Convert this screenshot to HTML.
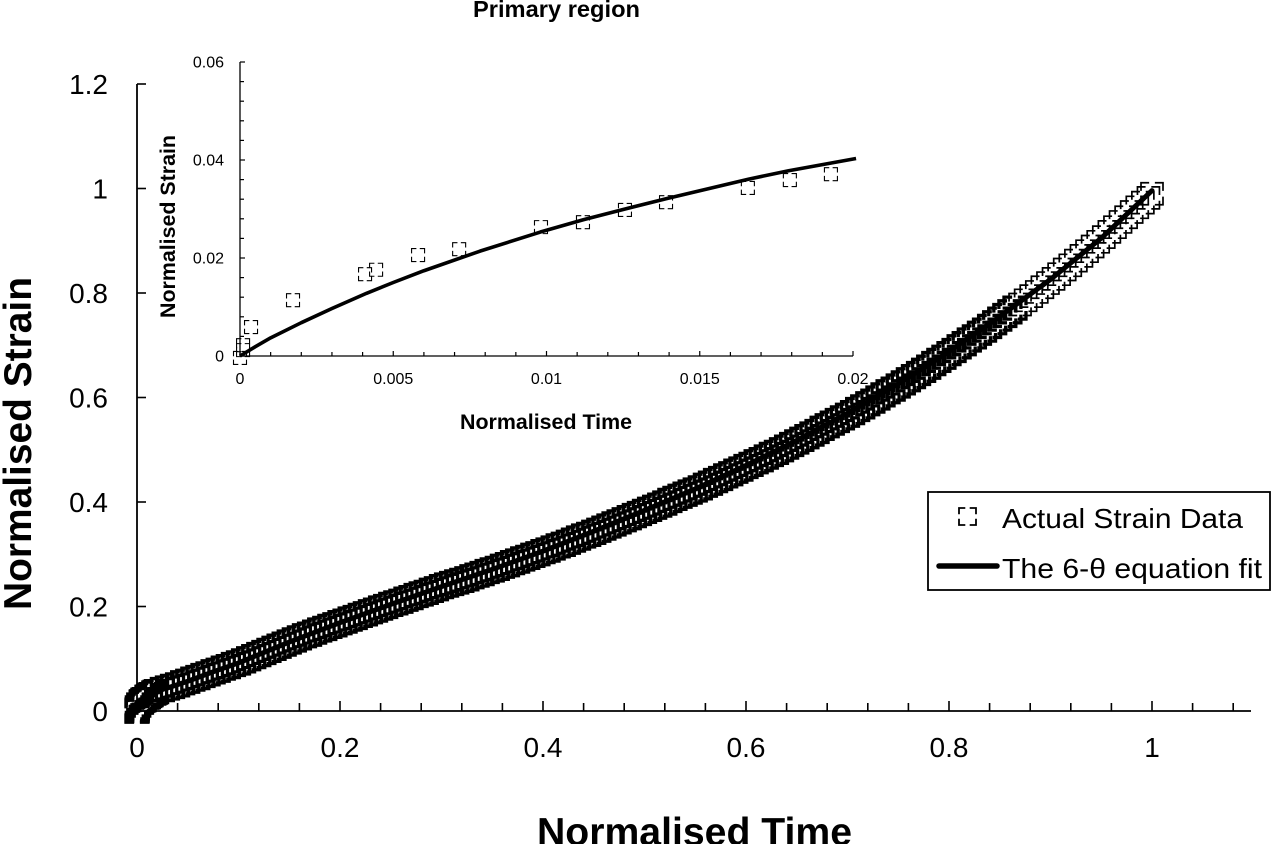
<!DOCTYPE html>
<html>
<head>
<meta charset="utf-8">
<title>Normalised Strain vs Normalised Time</title>
<style>
html,body{margin:0;padding:0;background:#fff;width:1273px;height:844px;overflow:hidden}
svg{display:block}
text{font-family:"Liberation Sans",sans-serif;fill:#000}
.b{font-weight:bold}
</style>
</head>
<body>
<svg id="chart" width="1273" height="844" viewBox="0 0 1273 844" xmlns="http://www.w3.org/2000/svg">
  <g id="main-markers"></g>
  <path id="main-line" fill="none" stroke="#000" stroke-width="5" stroke-linejoin="round" stroke-linecap="round"></path>
  <g id="main-axes"></g>
  <g id="inset-axes"></g>
  <g id="inset-markers"></g>
  <path id="inset-line" fill="none" stroke="#000" stroke-width="3.6" stroke-linejoin="round"></path>

  <text class="b" x="537" y="845" font-size="39" textLength="315" lengthAdjust="spacingAndGlyphs">Normalised Time</text>
  <text class="b" transform="translate(31,610) rotate(-90)" font-size="39" textLength="333" lengthAdjust="spacingAndGlyphs">Normalised Strain</text>
  <text class="b" x="473" y="17" font-size="23" textLength="167" lengthAdjust="spacingAndGlyphs">Primary region</text>
  <text class="b" x="460" y="429" font-size="21" textLength="172" lengthAdjust="spacingAndGlyphs">Normalised Time</text>
  <text class="b" transform="translate(175,318) rotate(-90)" font-size="21" textLength="183" lengthAdjust="spacingAndGlyphs">Normalised Strain</text>

  <g>
    <rect x="928" y="492" width="342" height="98" fill="#fff" stroke="#000" stroke-width="1.8"></rect>
    <rect x="959" y="508" width="17" height="17" fill="none" stroke="#000" stroke-width="1.8" stroke-dasharray="12.6 4.4" stroke-dashoffset="6.3"></rect>
    <text x="1002" y="528" font-size="28" textLength="241" lengthAdjust="spacingAndGlyphs">Actual Strain Data</text>
    <line x1="939" y1="566" x2="997" y2="566" stroke="#000" stroke-width="5.5" stroke-linecap="round"></line>
    <text x="1002" y="578" font-size="28" textLength="260" lengthAdjust="spacingAndGlyphs">The 6-θ equation fit</text>
  </g>
</svg>
<script>
var mainTime=[0,0.0001,0.0001,0.00036,0.00173,0.00408,0.00444,0.00581,0.00715,0.00982,0.01119,0.01256,0.0139,0.01657,0.01794,0.01928,
0.025,0.03,0.035,0.04,0.045,0.05,0.055,0.06,0.065,0.07,0.075,0.08,0.085,0.09,0.095,0.1,
0.105,0.11,0.115,0.12,0.125,0.13,0.135,0.14,0.145,0.15,0.155,0.16,0.165,0.17,0.175,0.18,0.185,0.19,0.195,0.2,
0.205,0.21,0.215,0.22,0.225,0.23,0.235,0.24,0.245,0.25,0.255,0.26,0.265,0.27,0.275,0.28,0.285,0.29,0.295,0.3,
0.305,0.31,0.315,0.32,0.325,0.33,0.335,0.34,0.345,0.35,0.355,0.36,0.365,0.37,0.375,0.38,0.385,0.39,0.395,0.4,
0.405,0.41,0.415,0.42,0.425,0.43,0.435,0.44,0.445,0.45,0.455,0.46,0.465,0.47,0.475,0.48,0.485,0.49,0.495,0.5,
0.505,0.51,0.515,0.52,0.525,0.53,0.535,0.54,0.545,0.55,0.555,0.56,0.565,0.57,0.575,0.58,0.585,0.59,0.595,0.6,
0.605,0.61,0.615,0.62,0.625,0.63,0.635,0.64,0.645,0.65,0.655,0.66,0.665,0.67,0.675,0.68,0.685,0.69,0.695,0.7,
0.705,0.71,0.715,0.72,0.725,0.73,0.735,0.74,0.745,0.75,0.755,0.76,0.765,0.77,0.775,0.78,0.785,0.79,0.795,0.8,
0.805,0.81,0.815,0.82,0.825,0.83,0.835,0.84,0.845,0.85,0.855,0.86,0.865,0.87,
0.8755,0.881,0.8865,0.892,0.8975,0.903,0.9085,0.914,0.9195,0.925,0.9305,0.936,0.9415,0.947,0.9525,0.958,0.9635,0.969,0.9745,0.98,0.9855,0.991,0.9965,1.0];
var mainStrain=[-0.0004,0.0012,0.0022,0.0059,0.0114,0.0167,0.0176,0.0206,0.0218,0.0263,0.0273,0.0298,0.0314,0.0343,0.0359,0.0371,
0.041,0.044,0.047,0.050,0.054,0.057,0.061,0.064,0.068,0.071,0.075,0.078,0.082,0.085,0.089,0.092,
0.096,0.100,0.104,0.108,0.112,0.116,0.120,0.124,0.128,0.132,0.136,0.140,0.144,0.147,0.151,0.155,0.158,0.162,0.165,0.169,
0.172,0.176,0.179,0.183,0.186,0.190,0.193,0.197,0.200,0.204,0.207,0.210,0.214,0.217,0.221,0.224,0.227,0.231,0.234,0.238,
0.241,0.244,0.247,0.250,0.253,0.257,0.260,0.263,0.267,0.270,0.273,0.277,0.280,0.284,0.287,0.291,0.294,0.298,0.301,0.305,
0.308,0.312,0.316,0.319,0.323,0.327,0.331,0.335,0.338,0.342,0.346,0.350,0.354,0.358,0.362,0.366,0.370,0.374,0.378,0.382,
0.386,0.390,0.394,0.398,0.403,0.407,0.411,0.415,0.419,0.423,0.427,0.432,0.436,0.441,0.445,0.450,0.454,0.459,0.463,0.468,
0.472,0.477,0.481,0.486,0.491,0.495,0.500,0.505,0.510,0.515,0.520,0.525,0.530,0.535,0.541,0.546,0.551,0.556,0.561,0.566,
0.571,0.577,0.582,0.588,0.593,0.599,0.605,0.611,0.616,0.622,0.628,0.634,0.640,0.646,0.652,0.658,0.665,0.671,0.677,0.684,
0.690,0.697,0.703,0.710,0.716,0.723,0.729,0.736,0.743,0.750,0.757,0.764,0.771,0.778,
0.786,0.794,0.802,0.811,0.819,0.827,0.836,0.845,0.853,0.862,0.871,0.880,0.889,0.898,0.907,0.917,0.926,0.936,0.945,0.955,0.964,0.973,0.982,0.990];
var fitTime=[0,0.002,0.005,0.01,0.02,0.03,0.05,0.075,0.1,0.15,0.2,0.25,0.3,0.35,0.4,0.45,0.5,0.55,0.6,0.65,0.7,0.75,0.8,0.85,0.9,0.95,1.0];
var fitStrain=[0,0.007,0.0145,0.0255,0.0385,0.044,0.057,0.075,0.092,0.132,0.169,0.204,0.238,0.271,0.306,0.344,0.384,0.425,0.470,0.518,0.570,0.626,0.688,0.755,0.826,0.905,0.996];
var mainXTicks=[0,0.2,0.4,0.6,0.8,1];
var mainXTickLabels=["0","0.2","0.4","0.6","0.8","1"];
var mainXMinorTicks=[0.04,0.08,0.12,0.16,0.24,0.28,0.32,0.36,0.44,0.48,0.52,0.56,0.64,0.68,0.72,0.76,0.84,0.88,0.92,0.96,1.04,1.08];
var mainYTicks=[0,0.2,0.4,0.6,0.8,1,1.2];
var mainYTickLabels=["0","0.2","0.4","0.6","0.8","1","1.2"];

var insetTime=[0,0.0001,0.0001,0.00036,0.00173,0.00408,0.00444,0.00581,0.00715,0.00982,0.01119,0.01256,0.0139,0.01657,0.01794,0.01928];
var insetStrain=[-0.0004,0.0012,0.0022,0.0059,0.0114,0.0167,0.0176,0.0206,0.0218,0.0263,0.0273,0.0298,0.0314,0.0343,0.0359,0.0371];
var insetFitTime=[0,0.0005,0.001,0.002,0.003,0.00413,0.005,0.006,0.00783,0.0098,0.0112,0.0125,0.0139,0.0166,0.0179,0.0201];
var insetFitStrain=[0,0.0019,0.0037,0.0068,0.0097,0.0128,0.0150,0.0174,0.0214,0.0253,0.0278,0.0299,0.0321,0.0361,0.0378,0.0403];
var insetXTicks=[0,0.005,0.01,0.015,0.02];
var insetXTickLabels=["0","0.005","0.01","0.015","0.02"];
var insetXMinorTicks=[0.001,0.002,0.003,0.004,0.006,0.007,0.008,0.009,0.011,0.012,0.013,0.014,0.016,0.017,0.018,0.019];
var insetYTicks=[0,0.02,0.04,0.06];
var insetYTickLabels=["0","0.02","0.04","0.06"];
var insetYMinorTicks=[0.004,0.008,0.012,0.016,0.024,0.028,0.032,0.036,0.044,0.048,0.052,0.056];

var NS="http://www.w3.org/2000/svg";
function mainX(v){return 137+v*1015;}
function mainY(v){return 711-v*522.5;}
function insetX(v){return 240+v*30650;}
function insetY(v){return 356-v*4900;}

function mk(parent,tag){var e=document.createElementNS(NS,tag);parent.appendChild(e);return e;}
function segment(parent,x1,y1,x2,y2,w){
  var l=mk(parent,'line');
  l.setAttribute('x1',x1);l.setAttribute('y1',y1);l.setAttribute('x2',x2);l.setAttribute('y2',y2);
  l.setAttribute('stroke','#000');l.setAttribute('stroke-width',w);
  
  
  return l;
}
function label(parent,x,y,txt,size,anchor){
  var t=mk(parent,'text');
  t.setAttribute('x',x);t.setAttribute('y',y);t.setAttribute('font-size',size);t.setAttribute('text-anchor',anchor);
  t.textContent=txt;
  
  
  return t;
}
function marker(parent,cx,cy,s,w){
  var r=mk(parent,'rect');
  var L=s*0.37,g=s-2*L;
  r.setAttribute('x',cx-s/2);r.setAttribute('y',cy-s/2);r.setAttribute('width',s);r.setAttribute('height',s);
  r.setAttribute('fill','none');r.setAttribute('stroke','#000');r.setAttribute('stroke-width',w);
  r.setAttribute('stroke-dasharray',(2*L)+' '+g);r.setAttribute('stroke-dashoffset',L);
  
  
}
function linePath(xs,ys,fx,fy){
  var d='';
  for(var i=0;i<xs.length;i++){d+=(i?'L':'M')+fx(xs[i]).toFixed(2)+' '+fy(ys[i]).toFixed(2);}
  return d;
}

var mainAxes=document.getElementById('main-axes');
segment(mainAxes,137,84,137,711,1.8);
segment(mainAxes,137,711,1251,711,1.8);
mainXTicks.forEach(function(v,i){
  segment(mainAxes,mainX(v),701,mainX(v),711,1.6);
  label(mainAxes,mainX(v),757,mainXTickLabels[i],28,'middle');
});
mainXMinorTicks.forEach(function(v){segment(mainAxes,mainX(v),703,mainX(v),711,1.6);});
mainYTicks.forEach(function(v,i){
  segment(mainAxes,137,mainY(v),146,mainY(v),1.6);
  label(mainAxes,108,mainY(v)+10,mainYTickLabels[i],28,'end');
});

var mm=document.getElementById('main-markers');
for(var i=0;i<mainTime.length;i++){marker(mm,mainX(mainTime[i]),mainY(mainStrain[i]),22,mainTime[i]<0.87?3.3:1.7);}
document.getElementById('main-line').setAttribute('d',linePath(fitTime,fitStrain,mainX,mainY));

var insetAxes=document.getElementById('inset-axes');
segment(insetAxes,240,62,240,356,1.3);
segment(insetAxes,240,356,853,356,1.3);
insetXTicks.forEach(function(v,i){
  segment(insetAxes,insetX(v),351,insetX(v),356,1.2);
  label(insetAxes,insetX(v),384,insetXTickLabels[i],16,'middle');
});
insetXMinorTicks.forEach(function(v){segment(insetAxes,insetX(v),352,insetX(v),356,1.2);});
insetYTicks.forEach(function(v,i){
  segment(insetAxes,240,insetY(v),245,insetY(v),1.2);
  label(insetAxes,224,insetY(v)+5.5,insetYTickLabels[i],16,'end');
});
insetYMinorTicks.forEach(function(v){segment(insetAxes,240,insetY(v),244,insetY(v),1.2);});

var im=document.getElementById('inset-markers');
for(var j=0;j<insetTime.length;j++){marker(im,insetX(insetTime[j]),insetY(insetStrain[j]),13,1.1);}
document.getElementById('inset-line').setAttribute('d',linePath(insetFitTime,insetFitStrain,insetX,insetY));
</script>
</body>
</html>
